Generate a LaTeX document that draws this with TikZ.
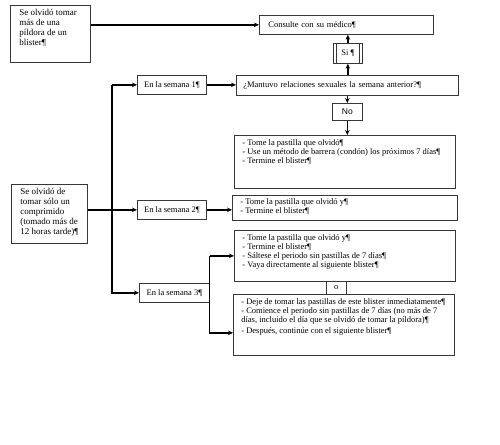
\documentclass[tikz,border=0pt]{standalone}
\usepackage{fontspec}
\setmainfont{Liberation Serif}
\newfontfamily\arialfont{Liberation Sans}
\usetikzlibrary{arrows.meta, positioning}
\definecolor{framegray}{RGB}{55,55,55}
\newcommand{\toptext}[3]{\parbox[t][#2][t]{#1}{#3}}
\tikzset{
  box/.style={rectangle, draw=framegray, line width=0.7pt, anchor=north west,
    inner xsep=8pt, inner ysep=4pt, align=left, font=\fontsize{8.5}{9}\selectfont},
  leftbox/.style={box, inner xsep=9pt, font=\fontsize{9}{9.9}\selectfont},
  linebox/.style={box, minimum height=20pt},
  sembox/.style={rectangle, draw=framegray, line width=0.7pt, anchor=north west,
    inner sep=0pt, minimum width=69pt, minimum height=19pt, font=\fontsize{8.5}{9}\selectfont},
  arrow/.style={-{Stealth[length=5pt,width=4.5pt]}, line width=1.4pt},
  line/.style={line width=1.4pt}
}

\begin{document}
\begin{tikzpicture}[x=1pt, y=-1pt]
  \useasboundingbox (0,0) rectangle (500,444);

  % Left boxes
  \node[leftbox] (mas) at (10,5)
    {\toptext{62pt}{49pt}{Se olvidó tomar\\ más de una\\ píldora de un\\ blister¶}};
  \node[leftbox] (comp) at (11,184)
    {\toptext{58pt}{51pt}{Se olvidó de\\ tomar sólo un\\ comprimido\\ (tomado más de\\ 12 horas tarde)¶}};

  % Week boxes
  \node[sembox] (sem1) at (137,75) {En la semana 1¶};
  \node[sembox] (sem2) at (137,200) {En la semana 2¶};
  \node[sembox, minimum width=70pt] (sem3) at (139,283) {En la semana 3¶};

  % Week 1
  \node[box, inner xsep=9pt, minimum height=19pt, text width=156pt] (consulta) at (259,15)
    {Consulte con su médico¶};
  \node[sembox, minimum width=29pt, minimum height=20pt] (si) at (333,43) {Si ¶};
  \draw[framegray, line width=0.7pt] ([xshift=3pt]si.north west) -- ([xshift=3pt]si.south west)
    ([xshift=-3pt]si.north east) -- ([xshift=-3pt]si.south east);
  \node[linebox, inner xsep=7pt, text width=208pt] (mantuvo) at (236,75)
    {¿Mantuvo relaciones sexuales la semana anterior?¶};
  \node[sembox, minimum width=30pt, minimum height=17pt, font=\arialfont\fontsize{8.5}{9}\selectfont] (no) at (332,103) {No};
  \node[box] (sem1box) at (234,135)
    {\toptext{205pt}{45pt}{- Tome la pastilla que olvidó¶\\
      - Use un método de barrera (condón) los próximos 7 días¶\\
      - Termine el blister¶}};

  % Week 2
  \node[box, inner ysep=3.5pt] (sem2box) at (232,195)
    {\toptext{209pt}{18pt}{- Tome la pastilla que olvidó y¶\\
      - Termine el blister¶}};

  % Week 3
  \node[box] (sem3a) at (234,230)
    {\toptext{205pt}{43pt}{- Tome la pastilla que olvidó y¶\\
      - Termine el blister¶\\
      - Sáltese el periodo sin pastillas de 7 días¶\\
      - Vaya directamente al siguiente blister¶}};
  \node[sembox, minimum width=20pt, minimum height=13pt] (o) at (326,281) {o};
  \node[box] (sem3b) at (233,294)
    {\toptext{205pt}{53pt}{- Deje de tomar las pastillas de este blister inmediatamente¶\\
      - Comience el periodo sin pastillas de 7 días (no más de 7\\
      días, incluido el día que se olvidó de tomar la píldora)¶\\[2pt]
      - Después, continúe con el siguiente blister¶}};

  % Connectors
  \coordinate (trunk) at (112,0);
  \coordinate (sem3low) at ([yshift=-8pt]sem3b.west);
  \draw[arrow] (mas.east |- consulta.west) -- (consulta.west);
  \draw[arrow] (si.north) -- (si.north |- consulta.south);
  \draw[arrow] (si.south |- mantuvo.north) -- (si.south);
  \draw[arrow] (no.north |- mantuvo.south) -- (no.north);
  \draw[arrow] (no.south) -- (no.south |- sem1box.north);
  \draw[arrow] (trunk |- sem1.west) -- (sem1.west);
  \draw[arrow] (trunk |- sem1.west) -- (trunk |- sem3.west) -- (sem3.west);
  \draw[arrow] (comp.east |- sem2.west) -- (sem2.west);
  \draw[arrow] (sem1.east) -- (sem1.east -| mantuvo.west);
  \draw[arrow] (sem2.east) -- (sem2.east -| sem2box.west);
  \draw[arrow] (sem3.east |- sem3a.west) -- (sem3a.west);
  \draw[arrow] (sem3.east |- sem3a.west) -- (sem3.east |- sem3low) -- (sem3low);
\end{tikzpicture}
\end{document}
